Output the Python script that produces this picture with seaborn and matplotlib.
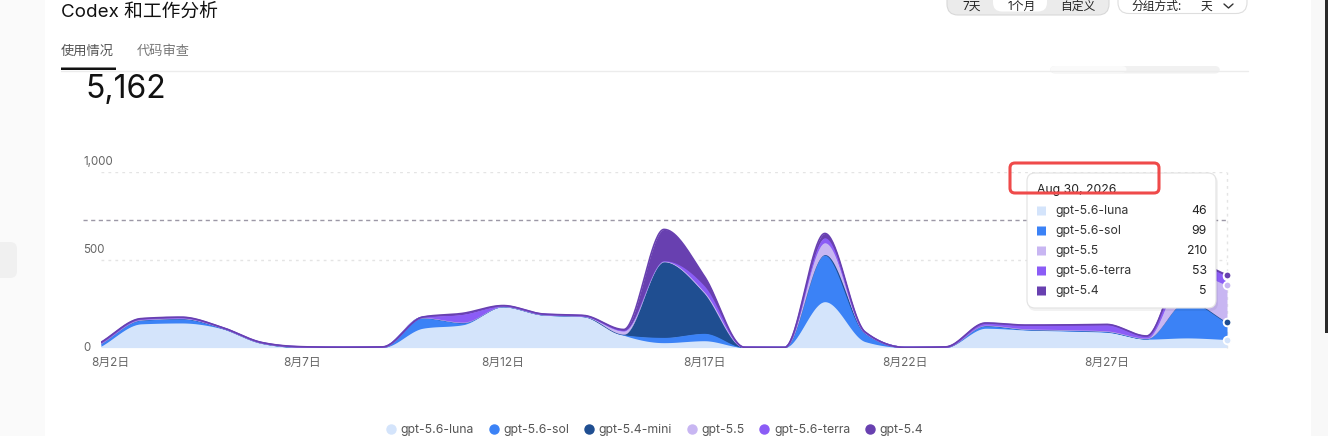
import numpy as np
import pandas as pd
import matplotlib
matplotlib.use("Agg")
import matplotlib.pyplot as plt
import matplotlib.transforms as mtransforms
from matplotlib.patches import FancyBboxPatch
from matplotlib.lines import Line2D
import seaborn as sns

# ---- data ----
days = list(range(2, 31))  # Aug 2 .. Aug 30
series_names = ['gpt-5.6-luna', 'gpt-5.6-sol', 'gpt-5.4-mini', 'gpt-5.5', 'gpt-5.6-terra', 'gpt-5.4']
luna = [8, 135, 140, 108, 25, 2, 1, 1, 110, 130, 232, 185, 176, 70, 28, 39, 1, 1, 261, 34, 1, 2, 110, 100, 94, 87, 48, 55, 46]
sol = [15, 22, 25, 5, 1, 0, 0, 0, 60, 12, 2, 2, 2, 3, 30, 42, 0, 0, 265, 50, 0, 0, 15, 4, 5, 5, 3, 210, 99]
mini = [0, 0, 0, 0, 0, 0, 0, 0, 0, 0, 0, 0, 0, 3, 430, 231, 0, 0, 3, 0, 0, 0, 0, 0, 0, 0, 0, 0, 0]
g55 = [2, 3, 3, 1, 1, 2, 1, 1, 1, 3, 1, 1, 1, 18, 4, 5, 1, 0, 67, 1, 0, 1, 3, 3, 3, 3, 3, 170, 210]
terra = [3, 3, 3, 1, 1, 0, 0, 1, 2, 45, 2, 2, 2, 5, 2, 35, 0, 0, 28, 2, 0, 0, 10, 19, 25, 35, 10, 60, 53]
g54 = [2, 2, 2, 1, 1, 1, 0, 1, 1, 5, 2, 1, 2, 4, 178, 55, 0, 0, 25, 2, 0, 1, 2, 2, 2, 2, 2, 5, 5]
colors = ['#d4e4fb', '#3b82f6', '#1f4e91', '#c8b6f2', '#8b5cf6', '#6840b0']
ref_line = 725
total_label = '5,162'
tick_days = [2, 7, 12, 17, 22, 27]
y_ticks = [0, 500, 1000]
tooltip_date = 'Aug 30, 2026'
tooltip_names = ['gpt-5.6-luna', 'gpt-5.6-sol', 'gpt-5.5', 'gpt-5.6-terra', 'gpt-5.4']
tooltip_vals = [46, 99, 210, 53, 5]

df = pd.DataFrame({'day': days, 'gpt-5.6-luna': luna, 'gpt-5.6-sol': sol, 'gpt-5.4-mini': mini,
                   'gpt-5.5': g55, 'gpt-5.6-terra': terra, 'gpt-5.4': g54})


def monotone(x, y, xs):
    # monotone cubic (like d3 curveMonotoneX), only used to draw the curve
    x = np.asarray(x, float); y = np.asarray(y, float)
    h = np.diff(x); s = np.diff(y) / h
    m = np.zeros_like(y)
    m[0], m[-1] = s[0], s[-1]
    for i in range(1, len(y) - 1):
        if s[i - 1] * s[i] > 0:
            p = (s[i - 1] * h[i] + s[i] * h[i - 1]) / (h[i - 1] + h[i])
            m[i] = (np.sign(s[i - 1]) + np.sign(s[i])) * min(abs(s[i - 1]), abs(s[i]), 0.5 * abs(p))
    idx = np.clip(np.searchsorted(x, xs) - 1, 0, len(x) - 2)
    t = (xs - x[idx]) / h[idx]
    h00 = 2 * t**3 - 3 * t**2 + 1; h10 = t**3 - 2 * t**2 + t
    h01 = -2 * t**3 + 3 * t**2; h11 = t**3 - t**2
    return h00 * y[idx] + h10 * h[idx] * m[idx] + h01 * y[idx + 1] + h11 * h[idx] * m[idx + 1]


W, H = 1328, 436
sns.set_theme(style="white")
plt.rcParams['font.family'] = ['Inter', 'Noto Sans CJK SC', 'DejaVu Sans']
fig = plt.figure(figsize=(W / 100, H / 100), dpi=100)
fig.patch.set_facecolor('white')
ID = mtransforms.IdentityTransform()


def rect(x0, y0, x1, y1, r=0, **kw):
    p = FancyBboxPatch((x0, H - y1), x1 - x0, y1 - y0, boxstyle=f"round,pad=0,rounding_size={r}",
                       transform=ID, **kw)
    fig.add_artist(p)
    return p


def txt(x, y, s, **kw):
    return fig.text(x / W, 1 - y / H, s, **kw)


# page chrome
rect(0, 0, 45, H, fc='#fafafa', ec='none', zorder=-5)
rect(-10, 242, 17, 278, r=7, fc='#f0f0f0', ec='none', zorder=-4)
rect(1311, 0, W, H, fc='#f8f8f8', ec='none', zorder=-5)
rect(1325, 0, W, 333, fc='#2a2a2a', ec='none', zorder=-4)
txt(61, 17, 'Codex 和工作分析', fontsize=13.5, color='#111', va='baseline')
rect(947, -20, 1109, 15, r=11, fc='#ebebeb', ec='#d8d8d8', lw=0.8)
rect(993, -20, 1047, 11.5, r=9, fc='white', ec='none')
for cx, s in [(972, '7天'), (1022, '1个月'), (1078, '自定义')]:
    txt(cx, 6.5, s, fontsize=8.5, color='#222', ha='center', va='center')
rect(1118, -20, 1247, 13.5, r=11, fc='white', ec='#dedede', lw=0.8)
txt(1131, 6.5, '分组方式:', fontsize=8.5, color='#222', va='center')
txt(1206, 6.5, '天', fontsize=8.5, color='#222', ha='center', va='center')
fig.add_artist(Line2D([1224, 1228.5, 1233], [H - 4, H - 8, H - 4], transform=ID, color='#333', lw=1))
txt(61, 52, '使用情况', fontsize=9.5, color='#555', va='center')
txt(137, 52, '代码审查', fontsize=9.5, color='#777', va='center')
rect(1050, 66, 1220, 73.5, r=5, fc='#f1f1f1', ec='none')
rect(1050, 66, 1127, 72.8, r=5, fc='#fafafa', ec='none')
fig.add_artist(Line2D([61, 1248], [H - 70.7, H - 70.7], transform=ID, color='#ececec', lw=1))
rect(61, 67.5, 116, 70, fc='#111', ec='none')
txt(85, 89, total_label, fontsize=23, color='#111', va='center')

# chart axes
x0, x1, yb, yt = 101, 1227, 347.6, 171.7
ax = fig.add_axes([x0 / W, (H - yb) / H, (x1 - x0) / W, (yb - yt) / H])
ax.set_facecolor('none')
ax.set_xlim(days[0], days[-1])
ax.set_ylim(0, 1000)
for sp in ax.spines.values():
    sp.set_visible(False)

for v in y_ticks:
    ax.axhline(v, color='#e4e4e4', lw=1, ls=(0, (2, 3)), zorder=0)
ax.axvline(days[-1], color='#e4e4e4', lw=1, ls=(0, (2, 3)), zorder=0, clip_on=False)
ax.plot([days[0] - 18 / 40.2, days[-1]], [ref_line, ref_line], color='#9c98a6', lw=1,
        ls=(0, (3, 2.5)), clip_on=False, zorder=0)

xs = np.linspace(days[0], days[-1], 1121)
cum = np.cumsum(df[series_names].to_numpy().T, axis=0)
base = np.zeros_like(xs)
for i, (name, c) in enumerate(zip(series_names, colors)):
    top = monotone(days, cum[i], xs)
    ax.fill_between(xs, base, top, color=c, lw=0, zorder=2 + 2 * i)
    sns.lineplot(x=xs, y=top, color=c, lw=1.2, ax=ax, zorder=3 + 2 * i)
    base = top

for i, c in enumerate(colors):
    ax.scatter([days[-1]], [cum[i][-1]], s=30, color=c, edgecolor='white', linewidth=1.3,
               zorder=20, clip_on=False)

ax.set_xticks(tick_days)
ax.set_xticklabels([f'8月{d}日' for d in tick_days], fontsize=8.5, color='#666')
ax.tick_params(axis='x', length=0, pad=7)
first = ax.get_xticklabels()[0]
first.set_transform(first.get_transform() + mtransforms.ScaledTranslation(9 / 100, 0, fig.dpi_scale_trans))
ax.set_yticks([])
for v in y_ticks:
    off = 0 if v == 0 else 10
    tr = mtransforms.offset_copy(ax.get_yaxis_transform(), fig=fig, x=0, y=off * 0.72, units='points')
    ax.text(-18 / (x1 - x0), v, f'{v:,}', transform=tr, fontsize=8.3, color='#666',
            ha='left', va='center', clip_on=False)

# tooltip
rect(1028, 175, 1218, 311, r=8, fc='#000000', ec='none', alpha=0.05, zorder=30)
rect(1027, 173, 1216, 308, r=8, fc='white', ec='#e2e2e2', lw=0.8, zorder=31)
txt(1037, 190, tooltip_date, fontsize=8.8, color='#222', va='center', zorder=32)
tcol = dict(zip(series_names, colors))
for k, (n, v) in enumerate(zip(tooltip_names, tooltip_vals)):
    yy = 211 + 20 * k
    rect(1037, yy - 4.5, 1046, yy + 4.5, fc=tcol[n], ec='none', zorder=32)
    txt(1055, yy, n, fontsize=8.8, color='#333', va='center', zorder=32)
    txt(1207, yy, str(v), fontsize=8.8, color='#222', va='center', ha='right', zorder=32)
rect(1010, 163, 1159, 193, r=5, fc='none', ec='#ef4a4a', lw=2.2, zorder=33)

# legend
handles = [Line2D([], [], marker='o', ls='none', color=c, markersize=6.5) for c in colors]
leg = fig.legend(handles, series_names, loc='center', bbox_to_anchor=(654 / W, 1 - 430 / H),
                 ncol=6, frameon=False, fontsize=8.8, handletextpad=0.3, columnspacing=1.1,
                 handlelength=1.0)
for t in leg.get_texts():
    t.set_color('#555')

fig.savefig('out.png', dpi=100)
